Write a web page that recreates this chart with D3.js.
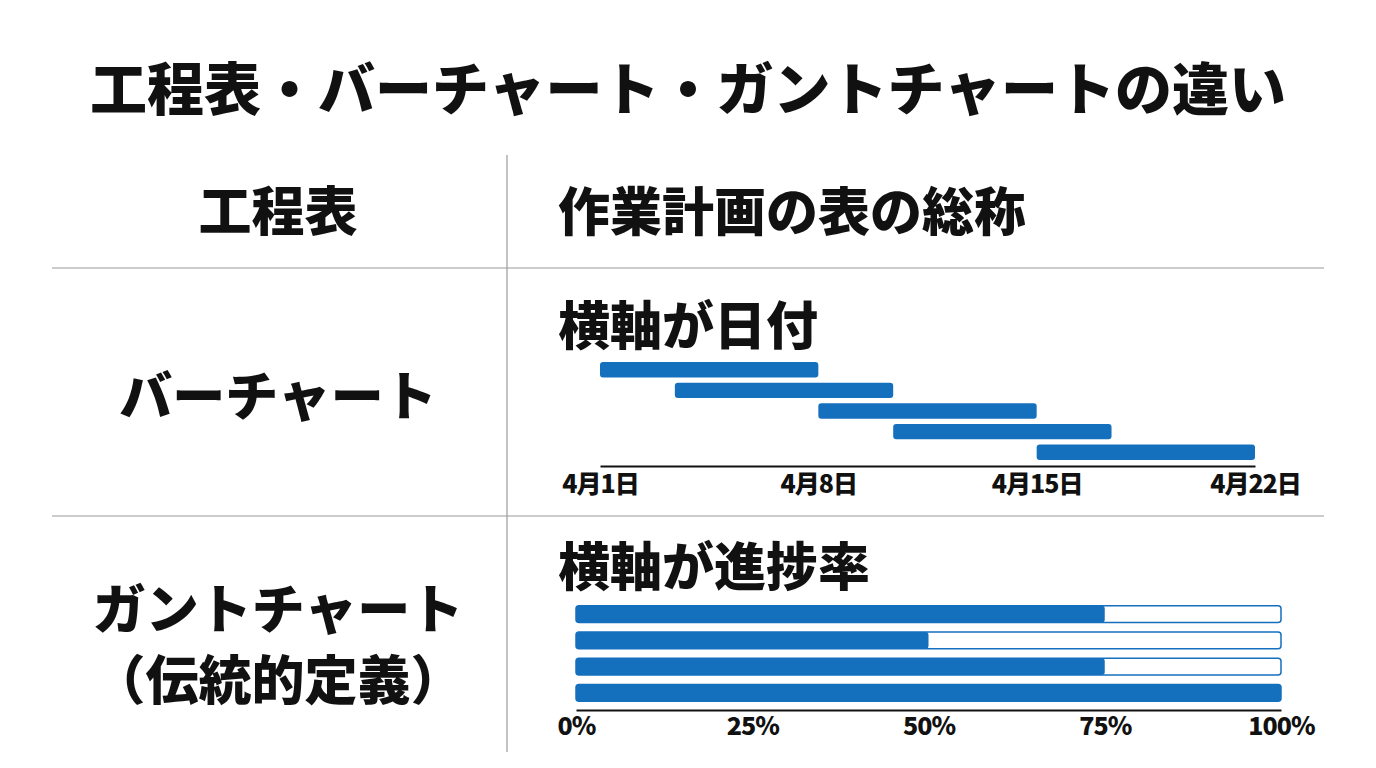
<!DOCTYPE html>
<html><head><meta charset="utf-8">
<script src="https://cdn.jsdelivr.net/npm/d3@7/dist/d3.min.js"></script>
<style>
html,body{margin:0;padding:0;background:#fff;}
svg{display:block;font-family:"Noto Sans CJK JP","Noto Sans",sans-serif;}
</style></head>
<body><svg id="c" width="1376" height="768"></svg>
<script>
// ---- data ----
const title = "工程表・バーチャート・ガントチャートの違い";
const rowLabels = [["工程表"], ["バーチャート"], ["ガントチャート", "（伝統的定義）"]];
const rowDescriptions = ["作業計画の表の総称", "横軸が日付", "横軸が進捗率"];
// bar chart (days of April)
const barTasks = ["作業1", "作業2", "作業3", "作業4", "作業5"];
const barStartDay = [1, 3.4, 8, 10.4, 15];
const barEndDay = [8, 10.4, 15, 17.4, 22];
const dayTicks = [1, 8, 15, 22];
const dayTickLabels = ["4月1日", "4月8日", "4月15日", "4月22日"];
// gantt chart (progress %)
const ganttTasks = ["作業1", "作業2", "作業3", "作業4"];
const ganttProgress = [75, 50, 75, 100];
const pctTicks = [0, 25, 50, 75, 100];
const pctTickLabels = ["0%", "25%", "50%", "75%", "100%"];

const BLUE = "#1470bd";
const svg = d3.select("#c");

// title
svg.append("text").attr("x", 688).attr("y", 85)
  .attr("text-anchor", "middle").attr("dominant-baseline", "central")
  .attr("font-size", 57).attr("font-weight", 900).attr("fill", "#111")
  .text(title);

// grid lines
const g = svg.append("g").attr("stroke", "#9a9a9a").attr("stroke-width", 1.2);
g.append("line").attr("x1", 507).attr("x2", 507).attr("y1", 155).attr("y2", 752);
g.append("line").attr("x1", 52).attr("x2", 1324).attr("y1", 268).attr("y2", 268);
g.append("line").attr("x1", 52).attr("x2", 1324).attr("y1", 516).attr("y2", 516);

// left labels
const leftY = [[208], [393], [606, 677]];
rowLabels.forEach((lines, i) => {
  lines.forEach((t, j) => {
    svg.append("text").attr("x", 278).attr("y", leftY[i][j])
      .attr("text-anchor", "middle").attr("dominant-baseline", "central")
      .attr("font-size", 53).attr("font-weight", 900).attr("fill", "#111").text(t);
  });
});
// right descriptions
const descY = [208, 322, 563];
rowDescriptions.forEach((t, i) => {
  svg.append("text").attr("x", 558).attr("y", descY[i])
    .attr("dominant-baseline", "central")
    .attr("font-size", 52).attr("font-weight", 900).attr("fill", "#111").text(t);
});

// ---- bar chart ----
const xDay = d3.scaleLinear().domain([1, 22]).range([600, 1255]);
const yBar = d3.scaleBand().domain(barTasks).range([360, 462]).paddingInner(0.25).paddingOuter(0.1);
svg.append("g").selectAll("rect").data(barTasks).join("rect")
  .attr("x", (d, i) => xDay(barStartDay[i]))
  .attr("width", (d, i) => xDay(barEndDay[i]) - xDay(barStartDay[i]))
  .attr("y", d => yBar(d)).attr("height", yBar.bandwidth())
  .attr("rx", 3).attr("fill", BLUE);
const axDay = svg.append("g").attr("transform", "translate(0,466)")
  .call(d3.axisBottom(xDay).tickValues(dayTicks).tickSize(0).tickPadding(9)
    .tickFormat((d, i) => dayTickLabels[i]));
axDay.select(".domain").attr("stroke", "#111").attr("stroke-width", 2);
axDay.selectAll("text").attr("font-size", 25).attr("font-weight", 900).attr("fill", "#111")
  .attr("font-family", '"Noto Sans CJK JP",sans-serif').attr("letter-spacing", -1);

// ---- gantt chart ----
const xPct = d3.scaleLinear().domain([0, 100]).range([576, 1281]);
const yG = d3.scaleBand().domain(ganttTasks).range([601, 706]).paddingInner(0.36).paddingOuter(0.18);
const gg = svg.append("g");
gg.selectAll("rect.bg").data(ganttTasks).join("rect").attr("class", "bg")
  .attr("x", xPct(0)).attr("width", xPct(100) - xPct(0))
  .attr("y", d => yG(d)).attr("height", yG.bandwidth())
  .attr("rx", 3).attr("fill", "#fff").attr("stroke", BLUE).attr("stroke-width", 1.5);
gg.selectAll("rect.fg").data(ganttTasks).join("rect").attr("class", "fg")
  .attr("x", xPct(0)).attr("width", (d, i) => xPct(ganttProgress[i]) - xPct(0))
  .attr("y", d => yG(d)).attr("height", yG.bandwidth())
  .attr("rx", 3).attr("fill", BLUE);
const axPct = svg.append("g").attr("transform", "translate(0,710)")
  .call(d3.axisBottom(xPct).tickValues(pctTicks).tickSize(0).tickPadding(7)
    .tickFormat((d, i) => pctTickLabels[i]));
axPct.select(".domain").attr("stroke", "#111").attr("stroke-width", 2);
axPct.selectAll("text").attr("font-size", 25).attr("font-weight", 900).attr("fill", "#111")
  .attr("font-family", '"Noto Sans CJK JP",sans-serif').attr("letter-spacing", -1);
</script></body></html>
